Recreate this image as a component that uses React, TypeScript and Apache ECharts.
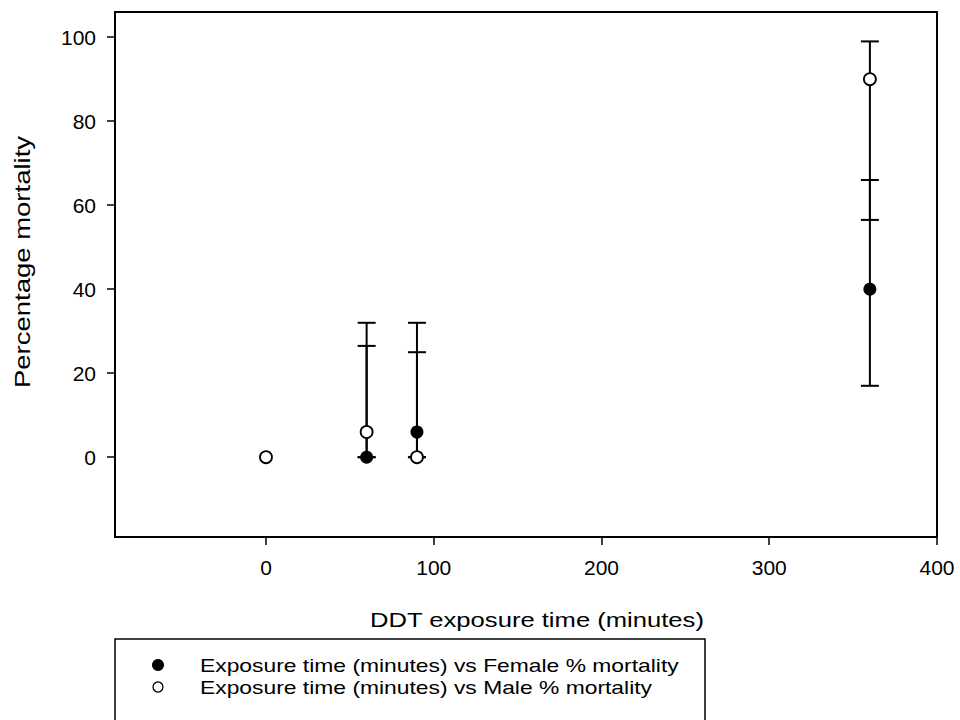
import React, { useEffect, useRef } from "react";
import * as echarts from "echarts";

// Exposure times (minutes) and mortality (%) for each sex
const femaleTime = [60, 90, 360];
const femaleMortality = [0, 6, 40];
const femaleLow = [0, 0, 17];
const femaleHigh = [26.5, 32, 66];

const maleTime = [0, 60, 90, 360];
const maleMortality = [0, 6, 0, 90];
const maleLow = [0, 0, 0, 56.5];
const maleHigh = [0, 32, 25, 99];

const xTicks = [0, 100, 200, 300, 400];
const yTicks = [0, 20, 40, 60, 80, 100];

const femaleName = "Exposure time (minutes) vs Female % mortality";
const maleName = "Exposure time (minutes) vs Male % mortality";
const xTitle = "DDT exposure time (minutes)";
const yTitle = "Percentage mortality";

const FONT = "Arial, 'Liberation Sans', Helvetica, sans-serif";

export default function App() {
  const ref = useRef<HTMLDivElement>(null);

  useEffect(() => {
    if (!ref.current) return;
    const chart = echarts.init(ref.current, null, { renderer: "svg" });

    const femalePts = femaleTime.map((t, i) => [t, femaleMortality[i]]);
    const malePts = maleTime.map((t, i) => [t, maleMortality[i]]);
    const femaleErr = femaleTime
      .map((t, i) => [t, femaleLow[i], femaleHigh[i]])
      .filter((d) => d[2] > d[1]);
    const maleErr = maleTime
      .map((t, i) => [t, maleLow[i], maleHigh[i]])
      .filter((d) => d[2] > d[1]);

    const errorBars = (data: number[][]) => ({
      type: "custom",
      z: 2,
      silent: true,
      data,
      encode: { x: 0, y: [1, 2] },
      renderItem: (_p: any, api: any) => {
        const x = api.value(0);
        const lo = api.coord([x, api.value(1)]);
        const hi = api.coord([x, api.value(2)]);
        const w = 9;
        const st = { stroke: "#000", lineWidth: 2 };
        return {
          type: "group",
          children: [
            { type: "line", shape: { x1: lo[0], y1: lo[1], x2: hi[0], y2: hi[1] }, style: st },
            { type: "line", shape: { x1: hi[0] - w, y1: hi[1], x2: hi[0] + w, y2: hi[1] }, style: st },
            { type: "line", shape: { x1: lo[0] - w, y1: lo[1], x2: lo[0] + w, y2: lo[1] }, style: st },
          ],
        };
      },
    });

    const legendText = (text: string, y: number) => ({
      type: "text",
      x: 200,
      y,
      scaleX: 1.27,
      style: {
        text,
        fontSize: 18,
        fontFamily: FONT,
        fill: "#000",
        textAlign: "left",
        textVerticalAlign: "middle",
      },
    });

    chart.setOption({
      animation: false,
      backgroundColor: "#fff",
      grid: {
        left: 115,
        right: 23,
        top: 12,
        bottom: 183,
        show: true,
        borderColor: "#000",
        borderWidth: 2,
        backgroundColor: "transparent",
      },
      xAxis: {
        type: "value",
        min: -90,
        max: 400,
        axisLine: { show: true, onZero: false, lineStyle: { color: "#000", width: 2 } },
        axisTick: {
          show: true,
          length: 8,
          customValues: xTicks,
          lineStyle: { color: "#000", width: 1.5 },
        },
        axisLabel: {
          customValues: xTicks,
          color: "#000",
          fontSize: 21,
          fontFamily: FONT,
          margin: 20,
        },
        splitLine: { show: false },
      },
      yAxis: {
        type: "value",
        min: -19,
        max: 106,
        axisLine: { show: true, onZero: false, lineStyle: { color: "#000", width: 2 } },
        axisTick: {
          show: true,
          length: 8,
          customValues: yTicks,
          lineStyle: { color: "#000", width: 1.5 },
        },
        axisLabel: {
          customValues: yTicks,
          color: "#000",
          fontSize: 21,
          fontFamily: FONT,
          margin: 19,
        },
        splitLine: { show: false },
      },
      series: [
        errorBars(femaleErr),
        errorBars(maleErr),
        {
          name: femaleName,
          type: "scatter",
          z: 5,
          data: femalePts,
          symbol: "circle",
          symbolSize: 13,
          itemStyle: { color: "#000", opacity: 1 },
        },
        {
          name: maleName,
          type: "scatter",
          z: 5,
          data: malePts,
          symbol: "circle",
          symbolSize: 12,
          itemStyle: { color: "#fff", borderColor: "#000", borderWidth: 1.8, opacity: 1 },
        },
      ],
      graphic: [
        {
          type: "text",
          x: 537,
          y: 620,
          scaleX: 1.22,
          style: {
            text: xTitle,
            fontSize: 21,
            fontFamily: FONT,
            fill: "#000",
            textAlign: "center",
            textVerticalAlign: "middle",
          },
        },
        {
          type: "text",
          x: 22,
          y: 262,
          rotation: Math.PI / 2,
          scaleX: 1.25,
          style: {
            text: yTitle,
            fontSize: 22,
            fontFamily: FONT,
            fill: "#000",
            textAlign: "center",
            textVerticalAlign: "middle",
          },
        },
        {
          type: "rect",
          shape: { x: 115, y: 639, width: 590, height: 100 },
          style: { fill: "none", stroke: "#000", lineWidth: 1.5 },
        },
        {
          type: "circle",
          shape: { cx: 158, cy: 665, r: 6 },
          style: { fill: "#000" },
        },
        {
          type: "circle",
          shape: { cx: 158, cy: 687, r: 5 },
          style: { fill: "#fff", stroke: "#000", lineWidth: 1.3 },
        },
        legendText(femaleName, 665),
        legendText(maleName, 687),
      ],
    });

    return () => chart.dispose();
  }, []);

  return (
    <div
      ref={ref}
      style={{ position: "fixed", left: 0, top: 0, width: 960, height: 720 }}
    />
  );
}
